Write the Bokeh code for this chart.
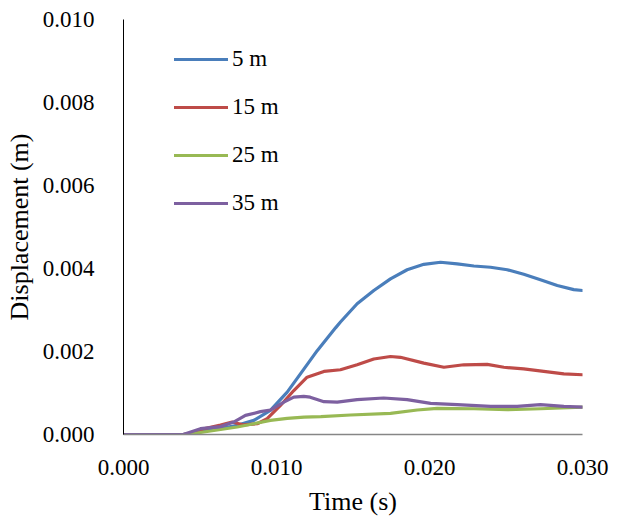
from bokeh.plotting import figure
from bokeh.models import Range1d, FixedTicker, PrintfTickFormatter, Legend, LegendItem
from bokeh.embed import file_html
from bokeh.resources import INLINE

# Time in seconds, displacement in metres
t_5 = [0, 0.0039, 0.0050, 0.00634, 0.00743, 0.00852, 0.0096, 0.0107, 0.0118, 0.01266,
       0.01386, 0.01418, 0.01527, 0.01636, 0.01745, 0.01854, 0.01963, 0.02072, 0.02181,
       0.0229, 0.02399, 0.02508, 0.02616, 0.02725, 0.02835, 0.02943, 0.0300]
d_5 = [0, 0, 0.00007, 0.00014, 0.00022, 0.00034, 0.00058, 0.00102, 0.00158, 0.00202,
       0.00257, 0.00271, 0.00315, 0.00347, 0.00375, 0.00397, 0.00410, 0.00415, 0.00411,
       0.00406, 0.00403, 0.00397, 0.00386, 0.00373, 0.00359, 0.00349, 0.00347]

t_15 = [0, 0.0039, 0.0044, 0.00525, 0.00634, 0.0071, 0.00786, 0.00874, 0.00939, 0.01026,
        0.01113, 0.0120, 0.0131, 0.01418, 0.01527, 0.01636, 0.01745, 0.0181, 0.01963,
        0.02094, 0.02224, 0.02377, 0.02486, 0.02616, 0.02747, 0.02878, 0.0300]
d_15 = [0, 0, 0.00003, 0.00014, 0.00023, 0.00030, 0.00023, 0.00026, 0.00038, 0.00070,
        0.00106, 0.00138, 0.00152, 0.00156, 0.00168, 0.00182, 0.00188, 0.00186, 0.00172,
        0.00162, 0.00168, 0.00169, 0.00162, 0.00158, 0.00152, 0.00146, 0.00144]

t_25 = [0, 0.00416, 0.00525, 0.00634, 0.00743, 0.00852, 0.0096, 0.0107, 0.0118, 0.0129,
        0.01484, 0.01745, 0.0192, 0.0205, 0.0229, 0.02508, 0.02725, 0.0300]
d_25 = [0, 0, 0.00006, 0.00012, 0.00018, 0.00026, 0.00034, 0.00039, 0.00042, 0.00043,
        0.00047, 0.00051, 0.00059, 0.00063, 0.00062, 0.00060, 0.00062, 0.00066]

t_35 = [0, 0.0039, 0.00503, 0.00634, 0.0072, 0.00797, 0.00895, 0.0096, 0.01048, 0.01113,
        0.01178, 0.0122, 0.0131, 0.01397, 0.01527, 0.0170, 0.01854, 0.02007, 0.02181,
        0.02399, 0.02573, 0.02725, 0.02878, 0.0300]
d_35 = [0, 0, 0.00014, 0.00019, 0.00030, 0.00046, 0.00055, 0.00059, 0.00078, 0.00090,
        0.00092, 0.00090, 0.00079, 0.00078, 0.00084, 0.00088, 0.00084, 0.00075, 0.00072,
        0.00068, 0.00068, 0.00072, 0.00068, 0.00066]

series_names = ["5 m", "15 m", "25 m", "35 m"]
series_colors = ["#4A7EBB", "#BE4B48", "#98B954", "#7D60A0"]
x_ticks = [0.0, 0.01, 0.02, 0.03]
y_ticks = [0.0, 0.002, 0.004, 0.006, 0.008, 0.010]

FONT = "Liberation Serif"

p = figure(width=613, height=519, output_backend="svg", toolbar_location=None,
           x_range=Range1d(0, 0.030), y_range=Range1d(0, 0.010),
           min_border_left=123, min_border_right=31, min_border_top=19, min_border_bottom=85)
p.outline_line_color = None
p.xgrid.grid_line_color = None
p.ygrid.grid_line_color = None

renderers = []
for (tx, dy), color in zip([(t_5, d_5), (t_15, d_15), (t_25, d_25), (t_35, d_35)], series_colors):
    r = p.line(tx, dy, line_color=color, line_width=3.2, line_join="round", line_cap="round")
    renderers.append(r)

for ax, ticks in ((p.xaxis[0], x_ticks), (p.yaxis[0], y_ticks)):
    ax.ticker = FixedTicker(ticks=ticks)
    ax.formatter = PrintfTickFormatter(format="%.3f")
    ax.major_tick_line_color = None
    ax.minor_tick_line_color = None
    ax.major_label_text_font = FONT
    ax.major_label_text_font_size = "23px"
    ax.major_label_text_color = "#000000"
    ax.axis_label_text_font = FONT
    ax.axis_label_text_font_size = "26px"
    ax.axis_label_text_font_style = "normal"
    ax.axis_label_text_color = "#000000"

p.xaxis.axis_label = "Time (s)"
p.yaxis.axis_label = "Displacement (m)"
p.xaxis.axis_line_color = "#868686"
p.yaxis.axis_line_color = "#000000"
p.xaxis.axis_line_width = 1.5
p.xaxis.major_label_standoff = 19
p.xaxis.axis_label_standoff = 9
p.yaxis.major_label_standoff = 23
p.yaxis.axis_label_standoff = 6

legend = Legend(items=[LegendItem(label=n, renderers=[r]) for n, r in zip(series_names, renderers)],
                location=(51, 216), glyph_width=54, glyph_height=30, label_height=30,
                spacing=18, padding=0, margin=0, label_standoff=4,
                border_line_color=None, background_fill_alpha=0)
legend.label_text_font = FONT
legend.label_text_font_size = "23px"
legend.label_text_color = "#000000"
p.add_layout(legend, "center")

open("out.html", "w").write(file_html(p, INLINE))
